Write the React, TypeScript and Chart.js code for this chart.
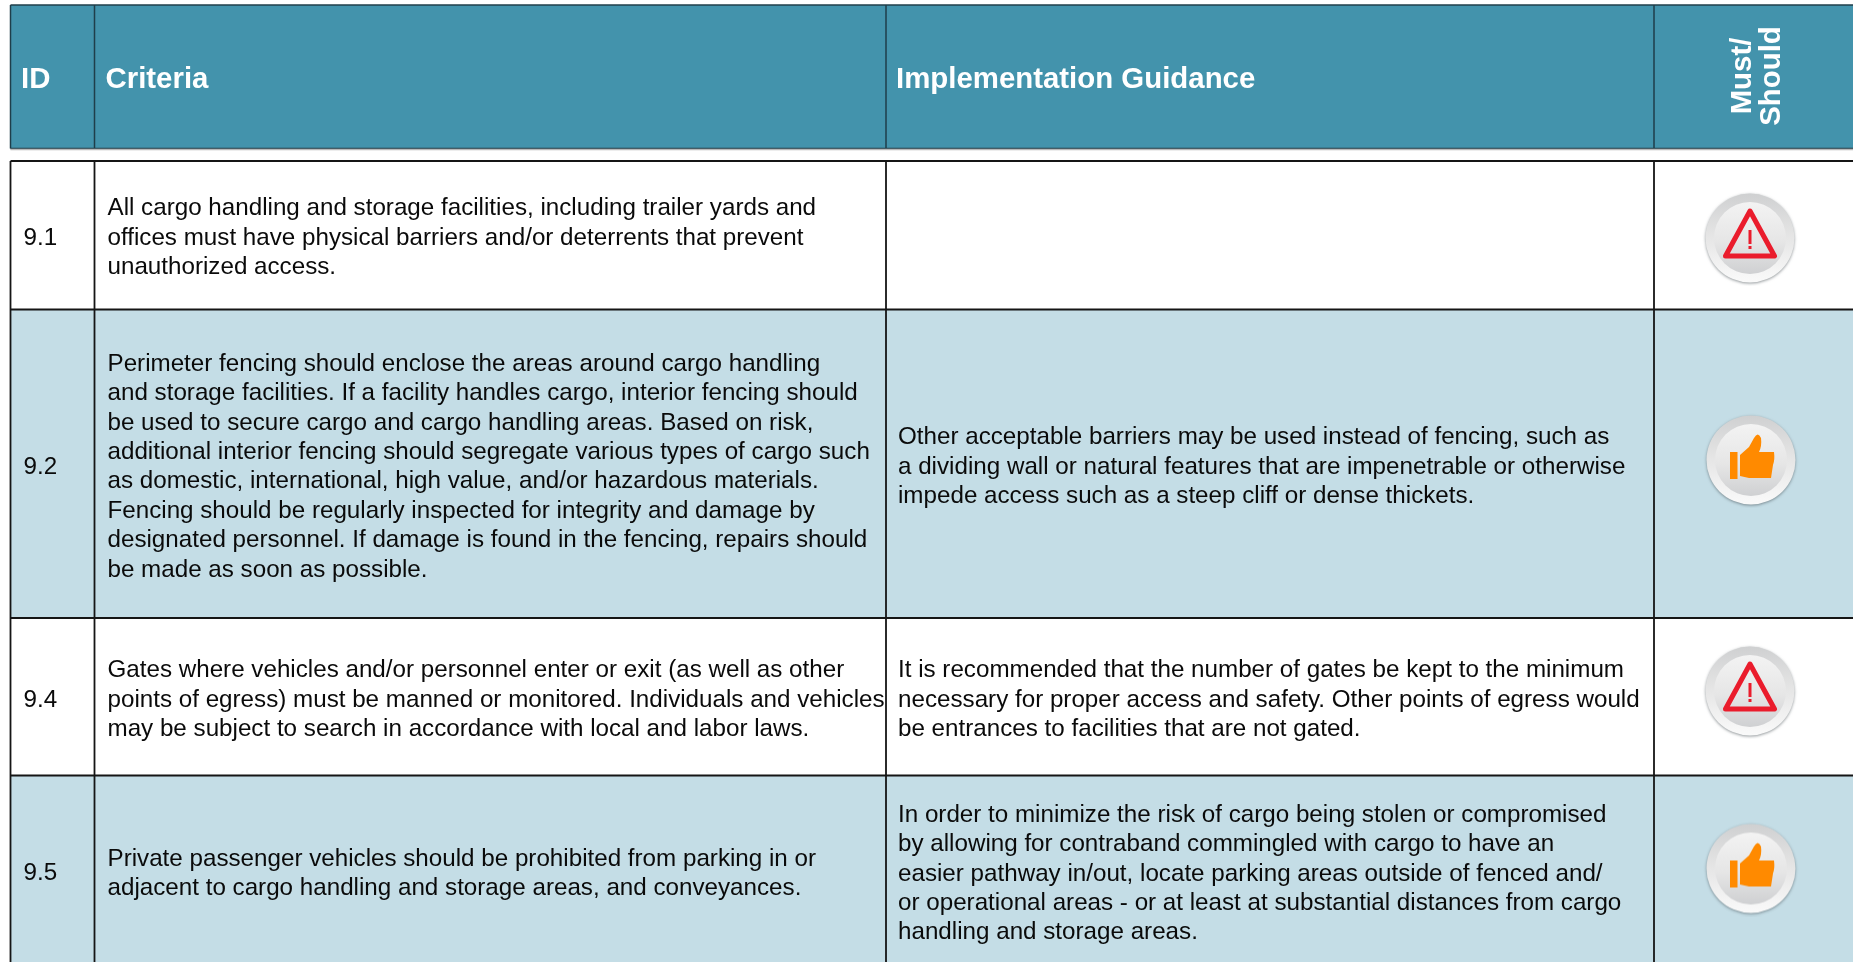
import React, { useEffect, useRef } from "react";
import { Chart, registerables } from "chart.js";

Chart.register(...registerables);

const WIDTH = 1853;
const HEIGHT = 962;
const BODY_FONT = '24.2px "Liberation Sans", Arial, sans-serif';
const HEAD_FONT = 'bold 29.4px "Liberation Sans", Arial, sans-serif';
const LINE_HEIGHT = 29.4;

const columnEdges = [10.5, 94.5, 886, 1654, 1853];
const headerEdges = [5, 148.5];
const rowEdges = [161, 309.5, 618, 775.5, 962];
const rowFills = ["#ffffff", "#c4dde6", "#ffffff", "#c4dde6"];

const ids = ["9.1", "9.2", "9.4", "9.5"];
const idCenters = [238, 467, 700, 873];

const criteriaCenters = [238, 467, 700, 874];
const criteria = [
  [
    "All cargo handling and storage facilities, including trailer yards and",
    "offices must have physical barriers and/or deterrents that prevent",
    "unauthorized access.",
  ],
  [
    "Perimeter fencing should enclose the areas around cargo handling",
    "and storage facilities. If a facility handles cargo, interior fencing should",
    "be used to secure cargo and cargo handling areas. Based on risk,",
    "additional interior fencing should segregate various types of cargo such",
    "as domestic, international, high value, and/or hazardous materials.",
    "Fencing should be regularly inspected for integrity and damage by",
    "designated personnel. If damage is found in the fencing, repairs should",
    "be made as soon as possible.",
  ],
  [
    "Gates where vehicles and/or personnel enter or exit (as well as other",
    "points of egress) must be manned or monitored. Individuals and vehicles",
    "may be subject to search in accordance with local and labor laws.",
  ],
  [
    "Private passenger vehicles should be prohibited from parking in or",
    "adjacent to cargo handling and storage areas, and conveyances.",
  ],
];

const guidanceCenters = [238, 467, 700, 874];
const guidance = [
  [],
  [
    "Other acceptable barriers may be used instead of fencing, such as",
    "a dividing wall or natural features that are impenetrable or otherwise",
    "impede access such as a steep cliff or dense thickets.",
  ],
  [
    "It is recommended that the number of gates be kept to the minimum",
    "necessary for proper access and safety. Other points of egress would",
    "be entrances to facilities that are not gated.",
  ],
  [
    "In order to minimize the risk of cargo being stolen or compromised",
    "by allowing for contraband commingled with cargo to have an",
    "easier pathway in/out, locate parking areas outside of fenced and/",
    "or operational areas - or at least at substantial distances from cargo",
    "handling and storage areas.",
  ],
];

const headerLabels = ["ID", "Criteria", "Implementation Guidance"];
const headerLabelX = [21, 105.5, 896];
const headerLabelY = 80;
const rotatedLabels = ["Must/", "Should"];
const rotatedLabelX = [1742.5, 1771.5];
const rotatedLabelY = 76;

const iconKinds = ["warn", "thumb", "warn", "thumb"];
const iconX = [1750, 1751, 1750, 1751];
const iconY = [238, 460, 691, 868.5];

function makeIcon(kind: string) {
  const size = 96;
  const c = document.createElement("canvas");
  c.width = size;
  c.height = size;
  const g = c.getContext("2d")!;
  const m = size / 2;
  g.shadowColor = "rgba(60,70,75,0.55)";
  g.shadowBlur = 3;
  g.shadowOffsetY = 1;
  const outer = g.createLinearGradient(0, m - 45, 0, m + 45);
  outer.addColorStop(0, "#cfd0d1");
  outer.addColorStop(0.5, "#e6e6e6");
  outer.addColorStop(1, "#fafafa");
  g.fillStyle = outer;
  g.beginPath();
  g.arc(m, m, 44.5, 0, Math.PI * 2);
  g.fill();
  g.shadowColor = "transparent";
  g.shadowBlur = 0;
  g.shadowOffsetY = 0;
  const inner = g.createLinearGradient(0, m - 36, 0, m + 36);
  inner.addColorStop(0, "#f3f3f3");
  inner.addColorStop(0.55, "#e6e6e6");
  inner.addColorStop(1, "#cfd0d2");
  g.fillStyle = inner;
  g.beginPath();
  g.arc(m, m, 36, 0, Math.PI * 2);
  g.fill();
  if (kind === "warn") {
    g.strokeStyle = "#ea1c2c";
    g.lineWidth = 5;
    g.lineJoin = "round";
    g.beginPath();
    g.moveTo(m, m - 27);
    g.lineTo(m + 24.5, m + 18);
    g.lineTo(m - 24.5, m + 18);
    g.closePath();
    g.stroke();
    g.lineWidth = 3;
    g.beginPath();
    g.moveTo(m, m - 8);
    g.lineTo(m, m + 6);
    g.moveTo(m, m + 8);
    g.lineTo(m, m + 11);
    g.stroke();
  } else {
    g.fillStyle = "#ff8a00";
    g.fillRect(m - 21, m - 8, 7.5, 27);
    g.beginPath();
    g.moveTo(m - 11, m - 5);
    g.lineTo(m - 2, m - 13);
    g.lineTo(m + 3, m - 22);
    g.quadraticCurveTo(m + 7, m - 29, m + 10, m - 22);
    g.quadraticCurveTo(m + 11, m - 14, m + 8, m - 8);
    g.lineTo(m + 23, m - 8);
    g.quadraticCurveTo(m + 24, m, m + 22, m + 5);
    g.lineTo(m + 20, m + 18);
    g.lineTo(m - 2, m + 18);
    g.lineTo(m - 11, m + 16);
    g.closePath();
    g.fill();
  }
  return c;
}

const band = (x0: number, x1: number, y0: number, y1: number, color: string) => ({
  data: [
    { x: x0, y: y0 },
    { x: x1, y: y0 },
    { x: x1, y: y1 },
    { x: x0, y: y1 },
    { x: x0, y: y0 },
  ],
  backgroundColor: color,
  borderWidth: 0,
  pointRadius: 0,
  fill: "shape",
  order: 4,
});

const rule = (x0: number, y0: number, x1: number, y1: number, color: string, width: number) => ({
  data: [
    { x: x0, y: y0 },
    { x: x1, y: y1 },
  ],
  borderColor: color,
  borderWidth: width,
  pointRadius: 0,
  fill: false,
  order: 2,
});

const tablePlugin = {
  id: "tableText",
  afterDatasetsDraw(chart: any) {
    const { ctx, scales } = chart;
    const px = (v: number) => scales.x.getPixelForValue(v);
    const py = (v: number) => scales.y.getPixelForValue(v);
    ctx.save();
    ctx.textBaseline = "middle";
    ctx.textAlign = "left";
    ctx.fillStyle = "#ffffff";
    ctx.font = HEAD_FONT;
    headerLabels.forEach((t, i) => ctx.fillText(t, px(headerLabelX[i]), py(headerLabelY)));
    rotatedLabels.forEach((t, i) => {
      ctx.save();
      ctx.translate(px(rotatedLabelX[i]), py(rotatedLabelY));
      ctx.rotate(-Math.PI / 2);
      ctx.textAlign = "center";
      ctx.fillText(t, 0, 0);
      ctx.restore();
    });
    ctx.fillStyle = "#0a0a0a";
    ctx.font = BODY_FONT;
    ids.forEach((t, i) => ctx.fillText(t, px(23.5), py(idCenters[i])));
    const block = (lines: string[], x: number, center: number) => {
      lines.forEach((t, i) => {
        ctx.fillText(t, px(x), py(center + (i - (lines.length - 1) / 2) * LINE_HEIGHT));
      });
    };
    criteria.forEach((l, i) => block(l, 107.5, criteriaCenters[i]));
    guidance.forEach((l, i) => block(l, 898, guidanceCenters[i]));
    ctx.restore();
  },
};

export default function App() {
  const ref = useRef<HTMLCanvasElement>(null);
  useEffect(() => {
    document.body.style.margin = "0";
    const bands = [
      band(columnEdges[0], WIDTH, headerEdges[0], headerEdges[1], "#4393ac"),
      ...rowFills.map((c, i) => band(columnEdges[0], WIDTH, rowEdges[i], rowEdges[i + 1], c)),
    ];
    const head = "#1f3e4a";
    const body = "#151515";
    const rules = [
      rule(columnEdges[0], headerEdges[0], WIDTH, headerEdges[0], head, 1.5),
      rule(columnEdges[0], headerEdges[1] + 1, WIDTH, headerEdges[1] + 1, "#b9b9b9", 1.5),
      rule(columnEdges[0], headerEdges[1], WIDTH, headerEdges[1], head, 1.5),
      rule(columnEdges[0], headerEdges[0], columnEdges[0], headerEdges[1], head, 1.5),
      ...columnEdges.slice(1, 4).map((x) => rule(x, headerEdges[0], x, headerEdges[1], head, 1.5)),
      ...rowEdges.slice(0, 4).map((y, i) => rule(columnEdges[0], y, WIDTH, y, body, i === 0 ? 2 : 1.8)),
      rule(columnEdges[0], rowEdges[0], columnEdges[0], HEIGHT, body, 1.8),
      ...columnEdges.slice(1, 4).map((x) => rule(x, rowEdges[0], x, HEIGHT, body, 1.8)),
    ];
    const icons = {
      data: iconX.map((x, i) => ({ x, y: iconY[i] })),
      showLine: false,
      pointStyle: iconKinds.map((k) => makeIcon(k)),
      pointRadius: 48,
      order: 1,
    };
    const chart = new Chart(ref.current!, {
      type: "line",
      data: { datasets: [...bands, ...rules, icons] as any },
      options: {
        animation: false,
        responsive: false,
        devicePixelRatio: 1,
        layout: { padding: 0, autoPadding: false },
        elements: { line: { tension: 0 } },
        plugins: { legend: { display: false }, tooltip: { enabled: false }, title: { display: false } },
        events: [],
        scales: {
          x: { type: "linear", min: 0, max: WIDTH, display: false },
          y: { type: "linear", min: 0, max: HEIGHT, reverse: true, display: false },
        },
      },
      plugins: [tablePlugin],
    } as any);
    return () => chart.destroy();
  }, []);
  return (
    <canvas
      ref={ref}
      width={WIDTH}
      height={HEIGHT}
      style={{ display: "block", width: WIDTH, height: HEIGHT, background: "#ffffff" }}
    />
  );
}
